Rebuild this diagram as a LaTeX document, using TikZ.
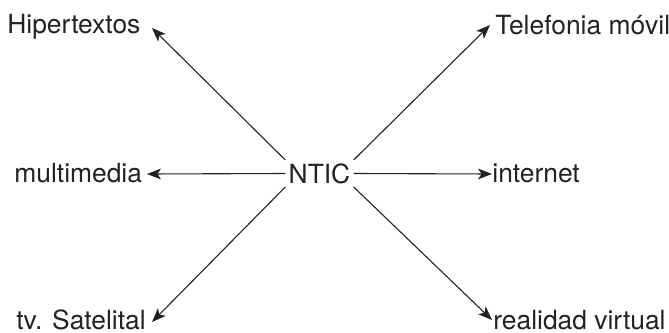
\documentclass[tikz,border=0pt]{standalone}
\usepackage{fontspec}
\setmainfont{TeX Gyre Heros}
\usetikzlibrary{arrows.meta}
\definecolor{ink}{HTML}{222222}
\tikzset{
  lbl/.style={inner sep=0pt, anchor=base west, text=ink, font=\fontsize{13.2}{15}\selectfont},
  hub/.style={inner xsep=1.5pt, inner ysep=1.5pt, text=ink, font=\fontsize{13.2}{15}\selectfont},
  arr/.style={draw=ink, line width=0.55pt, -{Stealth[length=7pt, width=5.4pt, inset=1.8pt]}}
}
\begin{document}
\begin{tikzpicture}[x=0.5pt, y=-0.5pt]
\useasboundingbox (0,0) rectangle (669,332);
\node[hub] (ntic) at (319.5,173.5) {NTIC};
\node[lbl] (hiper) at (7,33) {Hipertextos};
\node[lbl] (telef) at (495,34) {Telefonia móvil};
\node[lbl] (multi) at (14,182) {multimedia};
\node[lbl] (inter) at (492,182) {internet};
\node[lbl] (tvsat) at (16,329) {tv. Satelital};
\node[lbl] (reali) at (493,329) {realidad virtual};
\coordinate (tH) at (152,28);
\coordinate (tT) at (490,25);
\coordinate (tM) at (147,174);
\coordinate (tI) at (492,174);
\coordinate (tS) at (152,322);
\coordinate (tR) at (492,320);
\draw[arr] (ntic.north west) -- (tH);
\draw[arr] (ntic.north east) -- (tT);
\draw[arr] (ntic.west) -- (tM);
\draw[arr] (ntic.east) -- (tI);
\draw[arr] (ntic.south west) -- (tS);
\draw[arr] (ntic.south east) -- (tR);
\end{tikzpicture}
\end{document}
